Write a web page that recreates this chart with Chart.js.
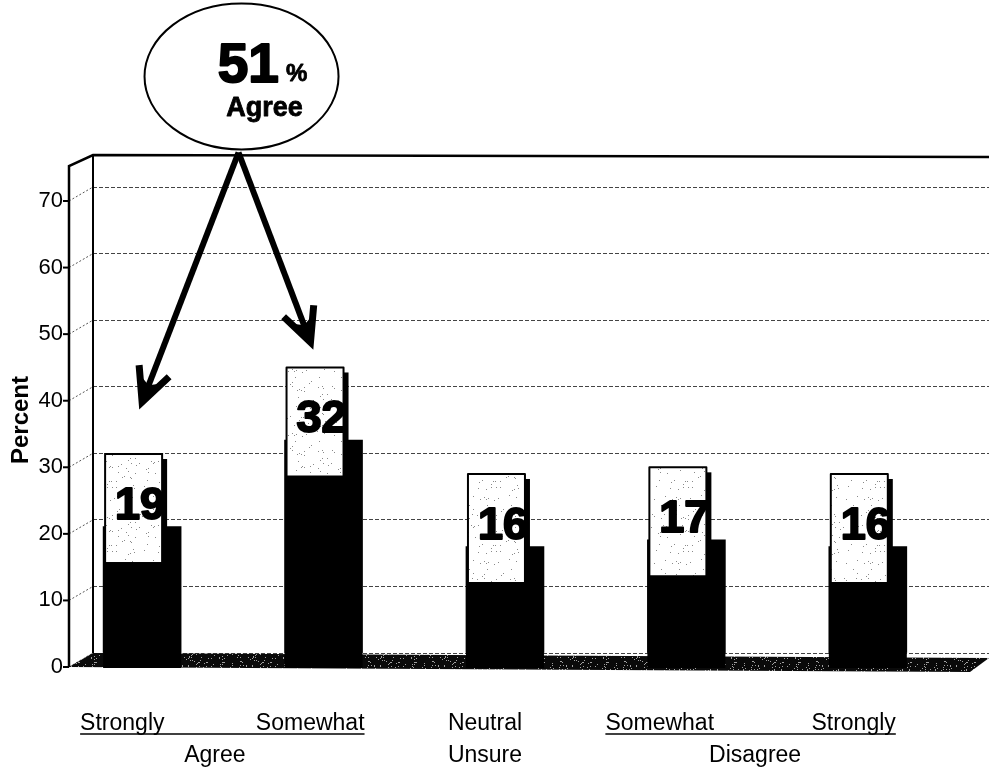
<!DOCTYPE html>
<html>
<head>
<meta charset="utf-8">
<script src="https://cdn.jsdelivr.net/npm/chart.js@4.4.1/dist/chart.umd.min.js"></script>
<style>
  html, body { margin: 0; padding: 0; background: #fff; }
  #wrap { width: 989px; height: 770px; position: relative; }
</style>
</head>
<body>
<div id="wrap"><canvas id="c"></canvas></div>
<script>
// Survey answers, one bar per answer
const categories = ['Strongly Agree', 'Somewhat Agree', 'Neutral Unsure', 'Somewhat Disagree', 'Strongly Disagree'];
const answerWords = ['Strongly', 'Somewhat', 'Neutral', 'Somewhat', 'Strongly'];
const groupWords = ['Agree', 'Unsure', 'Disagree'];
const percents = [19, 32, 16, 17, 16];
const yTicks = [0, 10, 20, 30, 40, 50, 60, 70];
const agreeTotal = percents[0] + percents[1];
const calloutWord = 'Agree';

const SANS = "'Liberation Sans', Arial, sans-serif";

// depth of the 3-D box: the front edge sits left of and below the back wall
const DEPTH_X = 24, DEPTH_Y = 14;

function hashDot(i, j, seed) {
  let h = Math.imul(i + 1, 374761393) ^ Math.imul(j + 7, 668265263) ^ seed;
  h = Math.imul(h ^ (h >>> 13), 1274126177);
  return ((h ^ (h >>> 16)) >>> 0) % 1000;
}
function stipple(ctx, bg, dot, density, seed) {
  const c = document.createElement('canvas');
  c.width = 64; c.height = 64;
  const g = c.getContext('2d');
  g.fillStyle = bg; g.fillRect(0, 0, 64, 64);
  g.fillStyle = dot;
  for (let i = 0; i < 64; i++) for (let j = 0; j < 64; j++) {
    if (hashDot(i, j, seed) < density) g.fillRect(i, j, 1, 1);
  }
  return ctx.createPattern(c, 'repeat');
}
function seg(ctx, x1, y1, x2, y2) {
  ctx.beginPath(); ctx.moveTo(x1, y1); ctx.lineTo(x2, y2); ctx.stroke();
}
// heavy text: fill plus a thin outline of the same colour
function heavyText(ctx, txt, x, y, w) {
  ctx.fillText(txt, x, y);
  ctx.lineWidth = w; ctx.lineJoin = 'round';
  ctx.strokeText(txt, x, y);
}

// walls, floor and front axis of the 3-D frame
const frame3d = {
  id: 'frame3d',
  beforeDatasetsDraw(chart) {
    const { ctx, chartArea: a, scales: { y } } = chart;
    const frontX = a.left - DEPTH_X;
    const y0 = y.getPixelForValue(0);
    const topY = a.top - 32;
    ctx.save();
    // dotted connectors from front ticks to the back-wall grid
    yTicks.forEach(v => {
      const yb = y.getPixelForValue(v);
      ctx.setLineDash([2, 2]); ctx.strokeStyle = '#555'; ctx.lineWidth = 1;
      seg(ctx, frontX, yb + DEPTH_Y, a.left, yb);
      ctx.setLineDash([]); ctx.strokeStyle = '#000'; ctx.lineWidth = 2;
      seg(ctx, frontX - 6, yb + DEPTH_Y, frontX, yb + DEPTH_Y);
    });
    // floor slab
    ctx.fillStyle = stipple(ctx, '#0a0a0a', '#a0a0a0', 70, 11);
    ctx.beginPath();
    ctx.moveTo(frontX, y0 + DEPTH_Y);
    ctx.lineTo(a.left, y0);
    ctx.lineTo(a.right, y0 + 5);
    ctx.lineTo(a.right - 19, y0 + 19);
    ctx.closePath();
    ctx.fill();
    // wall edges
    ctx.strokeStyle = '#000'; ctx.lineWidth = 2.5; ctx.lineJoin = 'miter';
    ctx.beginPath();
    ctx.moveTo(frontX, y0 + DEPTH_Y);
    ctx.lineTo(frontX, topY + 11);
    ctx.lineTo(a.left, topY);
    ctx.lineTo(a.right, topY + 2);
    ctx.stroke();
    ctx.lineWidth = 2;
    seg(ctx, a.left, topY, a.left, y0);
    ctx.restore();
  },
  afterDatasetsDraw(chart) {
    const { ctx, scales: { y } } = chart;
    const y0 = y.getPixelForValue(0);
    const meta = chart.getDatasetMeta(0);
    ctx.save();
    // carry each column down through the floor slab
    ctx.fillStyle = '#000';
    meta.data.forEach(el => {
      ctx.fillRect(el.x - el.width / 2, y0 - 1, el.width, DEPTH_Y + 2);
    });
    // value boxes
    const boxFill = stipple(ctx, '#fff', '#8a8a8a', 18, 5);
    meta.data.forEach((el, i) => {
      const bw = 57, bh = 109;
      const bl = el.x - el.width / 2 + 2;
      const cy = el.y - 18;
      const bt = cy - bh / 2;
      ctx.fillStyle = '#000';
      ctx.fillRect(bl + 5, bt + 5, bw, bh);
      ctx.fillStyle = boxFill;
      ctx.fillRect(bl, bt, bw, bh);
      ctx.strokeStyle = '#000'; ctx.lineWidth = 2;
      ctx.strokeRect(bl, bt, bw, bh);
      ctx.fillStyle = '#000';
      ctx.font = "bold 45px " + SANS;
      ctx.textAlign = 'right'; ctx.textBaseline = 'middle';
      heavyText(ctx, String(percents[i]), bl + bw + 3, cy - 2, 2);
    });
    ctx.restore();
  }
};

// "51% Agree" bubble with arrows to the two agree columns
const callout = {
  id: 'callout',
  afterDraw(chart) {
    const { ctx, scales: { x, y } } = chart;
    const cx = x.getPixelForValue(0.548), cy = y.getPixelForValue(86.6);
    const rx = 97, ry = 73;
    const ox = cx - 3, oy = cy + ry + 3;
    const tips = [
      [x.getPixelForValue(0), y.getPixelForValue(37.7)],
      [x.getPixelForValue(0.928), y.getPixelForValue(46.7)]
    ];
    ctx.save();
    ctx.strokeStyle = '#000'; ctx.fillStyle = '#000';
    ctx.lineCap = 'butt'; ctx.lineJoin = 'miter';
    tips.forEach(([tx, ty]) => {
      const ang = Math.atan2(oy - ty, ox - tx);
      ctx.lineWidth = 6;
      seg(ctx, ox, oy, tx + 4 * Math.cos(ang), ty + 4 * Math.sin(ang));
      const L = 37, spread = 0.45;
      ctx.lineWidth = 7;
      ctx.beginPath();
      ctx.moveTo(tx + L * Math.cos(ang - spread), ty + L * Math.sin(ang - spread));
      ctx.lineTo(tx, ty);
      ctx.lineTo(tx + L * Math.cos(ang + spread), ty + L * Math.sin(ang + spread));
      ctx.stroke();
      // solid wedge at the point
      ctx.beginPath();
      ctx.moveTo(tx, ty);
      ctx.lineTo(tx + 24 * Math.cos(ang - 0.35), ty + 24 * Math.sin(ang - 0.35));
      ctx.lineTo(tx + 18 * Math.cos(ang), ty + 18 * Math.sin(ang));
      ctx.lineTo(tx + 24 * Math.cos(ang + 0.35), ty + 24 * Math.sin(ang + 0.35));
      ctx.closePath();
      ctx.fill();
    });
    ctx.beginPath();
    ctx.ellipse(cx, cy, rx, ry, 0, 0, Math.PI * 2);
    ctx.fillStyle = '#fff'; ctx.fill();
    ctx.lineWidth = 2; ctx.strokeStyle = '#000'; ctx.stroke();

    ctx.fillStyle = '#000';
    ctx.textBaseline = 'alphabetic';
    const big = String(agreeTotal);
    ctx.font = "bold 55px " + SANS;
    const wBig = ctx.measureText(big).width;
    ctx.font = "bold 24px " + SANS;
    const wPct = ctx.measureText('%').width;
    const gap = 7;
    const left = cx + 21 - (wBig + gap + wPct) / 2;
    ctx.textAlign = 'left';
    ctx.font = "bold 55px " + SANS;
    heavyText(ctx, big, left, cy + 6, 2);
    ctx.font = "bold 24px " + SANS;
    heavyText(ctx, '%', left + wBig + gap, cy + 5, 0.8);
    ctx.font = "bold 27px " + SANS;
    ctx.textAlign = 'center';
    heavyText(ctx, calloutWord, cx + 23, cy + 40, 0.8);
    ctx.restore();
  }
};

// two-row category labels with underlined answer groups
const answerLabels = {
  id: 'answerLabels',
  afterDraw(chart) {
    const { ctx, scales: { x } } = chart;
    const c = [0, 1, 2, 3, 4].map(i => x.getPixelForValue(i));
    const row1 = 730, row2 = 762;
    ctx.save();
    ctx.fillStyle = '#000'; ctx.strokeStyle = '#000';
    ctx.font = "23px " + SANS;
    ctx.textBaseline = 'alphabetic';
    const groups = [
      { l: c[0] - 62, r: c[1] + 41, words: [answerWords[0], answerWords[1]], name: groupWords[0], mid: (c[0] + c[1]) / 2 - 18 },
      { l: c[3] - 81, r: c[4] + 28, words: [answerWords[3], answerWords[4]], name: groupWords[2], mid: (c[3] + c[4]) / 2 - 22 }
    ];
    groups.forEach(g => {
      ctx.textAlign = 'left'; ctx.fillText(g.words[0], g.l, row1);
      ctx.textAlign = 'right'; ctx.fillText(g.words[1], g.r, row1);
      ctx.lineWidth = 1.5;
      seg(ctx, g.l, row1 + 4, g.r, row1 + 4);
      ctx.textAlign = 'center'; ctx.fillText(g.name, g.mid, row2);
    });
    ctx.textAlign = 'center';
    ctx.fillText(answerWords[2], c[2] - 20, row1);
    ctx.fillText(groupWords[1], c[2] - 20, row2);
    ctx.restore();
  }
};

const ctx = document.getElementById('c').getContext('2d');
new Chart(ctx, {
  type: 'bar',
  data: {
    labels: categories,
    datasets: [{
      label: 'Percent',
      data: percents.map((v, i) => ({ x: i, y: v })),
      backgroundColor: '#000',
      borderWidth: 0,
      barThickness: 78
    }]
  },
  options: {
    responsive: true,
    maintainAspectRatio: false,
    animation: false,
    layout: { padding: { top: 187, bottom: 117, left: 0, right: 0 } },
    plugins: { legend: { display: false }, tooltip: { enabled: false } },
    scales: {
      x: { type: 'linear', offset: false, min: -0.2707, max: 4.668, display: false },
      y: {
        min: 0, max: 70,
        afterBuildTicks: ax => { ax.ticks = yTicks.map(v => ({ value: v })); },
        afterFit: ax => { ax.width = 93; },
        grid: { color: '#444', lineWidth: 1, drawTicks: false },
        border: { display: false, dash: [4, 2] },
        ticks: { padding: 30, labelOffset: 14, color: '#000', font: { family: SANS, size: 22 } },
        title: {
          display: true, text: 'Percent', color: '#000',
          font: { family: SANS, size: 24, weight: 'bold' },
          padding: { top: 7, bottom: 0 }
        }
      }
    }
  },
  plugins: [frame3d, callout, answerLabels]
});
</script>
</body>
</html>
